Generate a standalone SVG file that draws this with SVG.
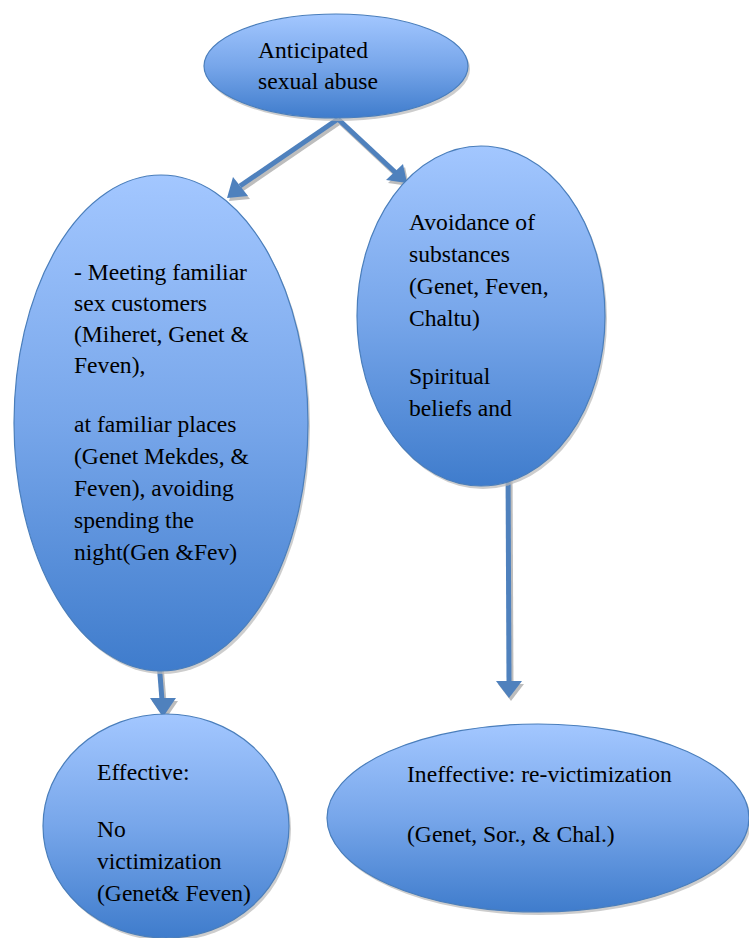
<svg xmlns="http://www.w3.org/2000/svg" width="749" height="938" viewBox="0 0 749 938">
  <style>
    .node { fill: url(#blueFill); stroke: #4a7ebb; stroke-width: 1.2; }
    .shadow { fill: #b8b8b8; opacity: 0.7; }
    .lbl { font-family: "Liberation Serif", "Times New Roman", serif; font-size: 23.6px; fill: #000; }
    .conn { stroke: #4f81bd; stroke-width: 5; fill: none; }
    .connShadow { stroke: #bdbdbd; stroke-width: 5; fill: none; }
    .head { fill: #4f81bd; }
    .headShadow { fill: #bdbdbd; }
  </style>
  <defs>
    <linearGradient id="blueFill" x1="0" y1="0" x2="0" y2="1">
      <stop offset="0" stop-color="#a3c7ff"/>
      <stop offset="0.5" stop-color="#77a6ea"/>
      <stop offset="1" stop-color="#3f7ccc"/>
    </linearGradient>
  </defs>

  <rect width="749" height="938" fill="#ffffff"/>

  <!-- connectors -->
  <g id="connectors">
    <!-- shadows -->
    <g transform="translate(2,3)">
      <path class="connShadow" d="M338,119 L240,186"/>
      <polygon class="headShadow" points="227,198 233,177 248,196"/>
      <path class="connShadow" d="M338,119 L396,173"/>
      <polygon class="headShadow" points="407,183 386,180 403,164"/>
      <path class="connShadow" d="M159,662 L162,700"/>
      <polygon class="headShadow" points="163,717 150,698 176,698"/>
      <path class="connShadow" d="M508,462 L509,682"/>
      <polygon class="headShadow" points="509,698 496,681 522,681"/>
    </g>
    <path class="conn" d="M338,119 L240,186"/>
    <polygon class="head" points="227,198 233,177 248,196"/>
    <path class="conn" d="M338,119 L396,173"/>
    <polygon class="head" points="407,183 386,180 403,164"/>
    <path class="conn" d="M159,662 L162,700"/>
    <polygon class="head" points="163,717 150,698 176,698"/>
    <path class="conn" d="M508,462 L509,682"/>
    <polygon class="head" points="509,698 496,681 522,681"/>
  </g>

  <g id="anticipated">
    <ellipse class="shadow" cx="338" cy="69" rx="132" ry="52"/>
    <ellipse class="node" cx="336" cy="66" rx="132" ry="52"/>
    <text class="lbl" x="258" y="58">Anticipated</text>
    <text class="lbl" x="258" y="89">sexual abuse</text>
  </g>

  <g id="familiar">
    <ellipse class="shadow" cx="163" cy="426" rx="147" ry="248"/>
    <ellipse class="node" cx="161" cy="423" rx="147" ry="248"/>
    <text class="lbl" x="74" y="280">- Meeting familiar</text>
    <text class="lbl" x="74" y="311">sex customers</text>
    <text class="lbl" x="74" y="342">(Miheret, Genet &amp;</text>
    <text class="lbl" x="74" y="373">Feven),</text>
    <text class="lbl" x="74" y="432">at familiar places</text>
    <text class="lbl" x="74" y="464">(Genet Mekdes, &amp;</text>
    <text class="lbl" x="74" y="496">Feven), avoiding</text>
    <text class="lbl" x="74" y="528">spending the</text>
    <text class="lbl" x="74" y="560">night(Gen &amp;Fev)</text>
  </g>

  <g id="avoidance">
    <ellipse class="shadow" cx="483" cy="319" rx="124" ry="170"/>
    <ellipse class="node" cx="481" cy="316" rx="124" ry="170"/>
    <text class="lbl" x="409" y="230">Avoidance of</text>
    <text class="lbl" x="409" y="262">substances</text>
    <text class="lbl" x="409" y="294">(Genet, Feven,</text>
    <text class="lbl" x="409" y="326">Chaltu)</text>
    <text class="lbl" x="409" y="384">Spiritual</text>
    <text class="lbl" x="409" y="416">beliefs and</text>
  </g>

  <g id="effective">
    <ellipse class="shadow" cx="168" cy="829" rx="123" ry="112"/>
    <ellipse class="node" cx="166" cy="826" rx="123" ry="112"/>
    <text class="lbl" x="97" y="780">Effective:</text>
    <text class="lbl" x="97" y="837">No</text>
    <text class="lbl" x="97" y="869">victimization</text>
    <text class="lbl" x="97" y="901">(Genet&amp; Feven)</text>
  </g>

  <g id="ineffective">
    <ellipse class="shadow" cx="540" cy="821" rx="211" ry="94"/>
    <ellipse class="node" cx="538" cy="818" rx="211" ry="94"/>
    <text class="lbl" x="407" y="782">Ineffective: re-victimization</text>
    <text class="lbl" x="407" y="842">(Genet, Sor., &amp; Chal.)</text>
  </g>
</svg>
